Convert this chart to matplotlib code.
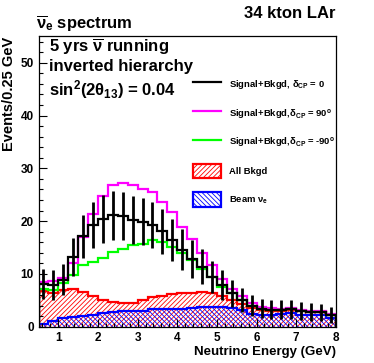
import numpy as np
import matplotlib
matplotlib.use("Agg")
import matplotlib.pyplot as plt
from matplotlib.lines import Line2D
from matplotlib.patches import Patch

plt.rcParams['font.family'] = ['Liberation Sans', 'DejaVu Sans']
plt.rcParams['font.weight'] = 'bold'
plt.rcParams['mathtext.fontset'] = 'custom'
plt.rcParams['mathtext.rm'] = 'Liberation Sans:bold'
plt.rcParams['mathtext.it'] = 'Liberation Sans:bold'
plt.rcParams['mathtext.bf'] = 'Liberation Sans:bold'
plt.rcParams['hatch.linewidth'] = 0.6

# 30 bins of 0.25 GeV between 0.5 and 8 GeV
edges = np.linspace(0.5, 8.0, 31)
centers = 0.5 * (edges[:-1] + edges[1:])

# Signal+Bkgd, dCP = 0 (black, with error bars)
sig_dcp0 = [8.1, 7.9, 8.9, 13.2, 17.1, 19.2, 20.4, 21.1, 20.9, 20.2,
            19.9, 19.3, 18.1, 16.4, 14.6, 12.9, 11.4, 9.4, 7.9, 6.3,
            5.0, 4.0, 3.4, 3.2, 3.2, 3.3, 3.0, 2.8, 2.7, 2.3]
# Signal+Bkgd, dCP = 90 (magenta)
sig_dcp90 = [8.4, 8.6, 9.2, 12.0, 17.0, 21.4, 24.8, 26.8, 27.3, 26.9,
             26.1, 25.5, 23.7, 21.7, 18.9, 16.7, 13.9, 11.6, 9.1, 7.2,
             5.9, 4.5, 3.8, 3.5, 3.4, 3.5, 3.2, 3.0, 2.9, 2.5]
# Signal+Bkgd, dCP = -90 (green)
sig_dcpm90 = [7.1, 6.9, 8.2, 9.8, 11.7, 12.3, 13.1, 14.2, 14.8, 15.4,
              15.7, 16.5, 16.1, 15.1, 14.0, 12.6, 11.0, 9.4, 7.6, 6.3,
              5.0, 4.0, 3.4, 3.2, 3.2, 3.3, 3.0, 2.8, 2.7, 2.3]
# All background (red)
all_bkgd = [6.8, 6.4, 7.0, 7.2, 6.5, 5.8, 5.0, 4.6, 4.4, 4.4,
            5.0, 5.6, 5.9, 6.1, 6.3, 6.4, 6.5, 6.3, 5.8, 5.0,
            4.3, 3.5, 3.1, 3.0, 3.0, 3.2, 2.9, 2.8, 2.7, 2.2]
# Beam nu_e (blue)
beam_nue = [0.6, 1.1, 1.6, 1.8, 2.0, 2.2, 2.6, 2.8, 2.9, 2.9,
            3.0, 3.4, 3.3, 3.3, 3.4, 3.6, 3.8, 3.8, 3.7, 3.5,
            3.2, 2.5, 2.3, 2.3, 2.5, 2.6, 2.3, 2.2, 2.3, 1.7]

fig = plt.figure(figsize=(3.74, 3.63), dpi=100)
ax = fig.add_axes([0.103, 0.100, 0.795, 0.800])

red = '#ff0000'
blue = '#0000ff'
magenta = '#ff00ff'
green = '#00ff00'

ax.stairs(all_bkgd, edges, fill=True, facecolor='none', edgecolor=red,
          hatch='///////', linewidth=0)
ax.stairs(beam_nue, edges, fill=True, facecolor='none', edgecolor=blue,
          hatch='\\\\\\\\\\\\\\', linewidth=0)
ax.stairs(all_bkgd, edges, color=red, linewidth=1.6)
ax.stairs(beam_nue, edges, color=blue, linewidth=1.6)
ax.stairs(sig_dcp90, edges, color=magenta, linewidth=1.6)
ax.stairs(sig_dcpm90, edges, color=green, linewidth=1.6)
ax.stairs(sig_dcp0, edges, color='black', linewidth=1.6)
ax.errorbar(centers, sig_dcp0, yerr=np.sqrt(sig_dcp0), fmt='none',
            ecolor='black', elinewidth=2.0, capsize=0)

ax.set_xlim(0.5, 8.0)
ax.set_ylim(0, 55)
ax.set_xticks([1, 2, 3, 4, 5, 6, 7, 8])
ax.set_xticks(np.arange(0.6, 8.0, 0.2), minor=True)
ax.set_yticks([0, 10, 20, 30, 40, 50])
ax.set_yticks(np.arange(0, 55, 2), minor=True)
ax.tick_params(which='both', direction='in', top=False, right=False,
               labelsize=8.5, width=0.8)
ax.tick_params(which='major', length=6)
ax.tick_params(which='minor', length=3)
for s in ax.spines.values():
    s.set_linewidth(0.9)

ax.set_xlabel('Neutrino Energy (GeV)', fontsize=9.5, fontweight='bold',
              loc='right', labelpad=2)
ax.set_ylabel('Events/0.25 GeV', fontsize=10.5, fontweight='bold',
              loc='top', labelpad=3)

fig.text(0.897, 0.963, '34 kton LAr', fontsize=12, fontweight='bold',
         ha='right', va='center')
fig.text(0.097, 0.933, r'$\overline{\nu}_{e}$ spectrum', fontsize=12,
         fontweight='bold', ha='left', va='center')

ax.text(0.035, 0.965, r'5 yrs $\overline{\nu}$ running', transform=ax.transAxes,
        fontsize=12, fontweight='bold', ha='left', va='center')
ax.text(0.035, 0.895, 'inverted hierarchy', transform=ax.transAxes,
        fontsize=12, fontweight='bold', ha='left', va='center')
ax.text(0.035, 0.815, r'sin$^{2}$(2$\theta_{13}$) = 0.04', transform=ax.transAxes,
        fontsize=12, fontweight='bold', ha='left', va='center')

handles = [
    Line2D([], [], color='black', linewidth=1.6),
    Line2D([], [], color=magenta, linewidth=1.6),
    Line2D([], [], color=green, linewidth=1.6),
    Patch(facecolor='none', edgecolor=red, hatch='///////', linewidth=1.6),
    Patch(facecolor='none', edgecolor=blue, hatch='\\\\\\\\\\\\\\', linewidth=1.6),
]
labels = [
    r'Signal+Bkgd, $\delta_{CP}$ = 0',
    r'Signal+Bkgd,$\delta_{CP}$ = 90$^{o}$',
    r'Signal+Bkgd,$\delta_{CP}$ = -90$^{o}$',
    'All Bkgd',
    r'Beam $\nu_{e}$',
]
ax.legend(handles, labels, loc='upper left', bbox_to_anchor=(0.519, 0.86),
          frameon=False, fontsize=6.8, handlelength=3.0, handleheight=2.0,
          handletextpad=0.8, labelspacing=1.5, borderpad=0, borderaxespad=0)

fig.savefig('out.png', dpi=100)
